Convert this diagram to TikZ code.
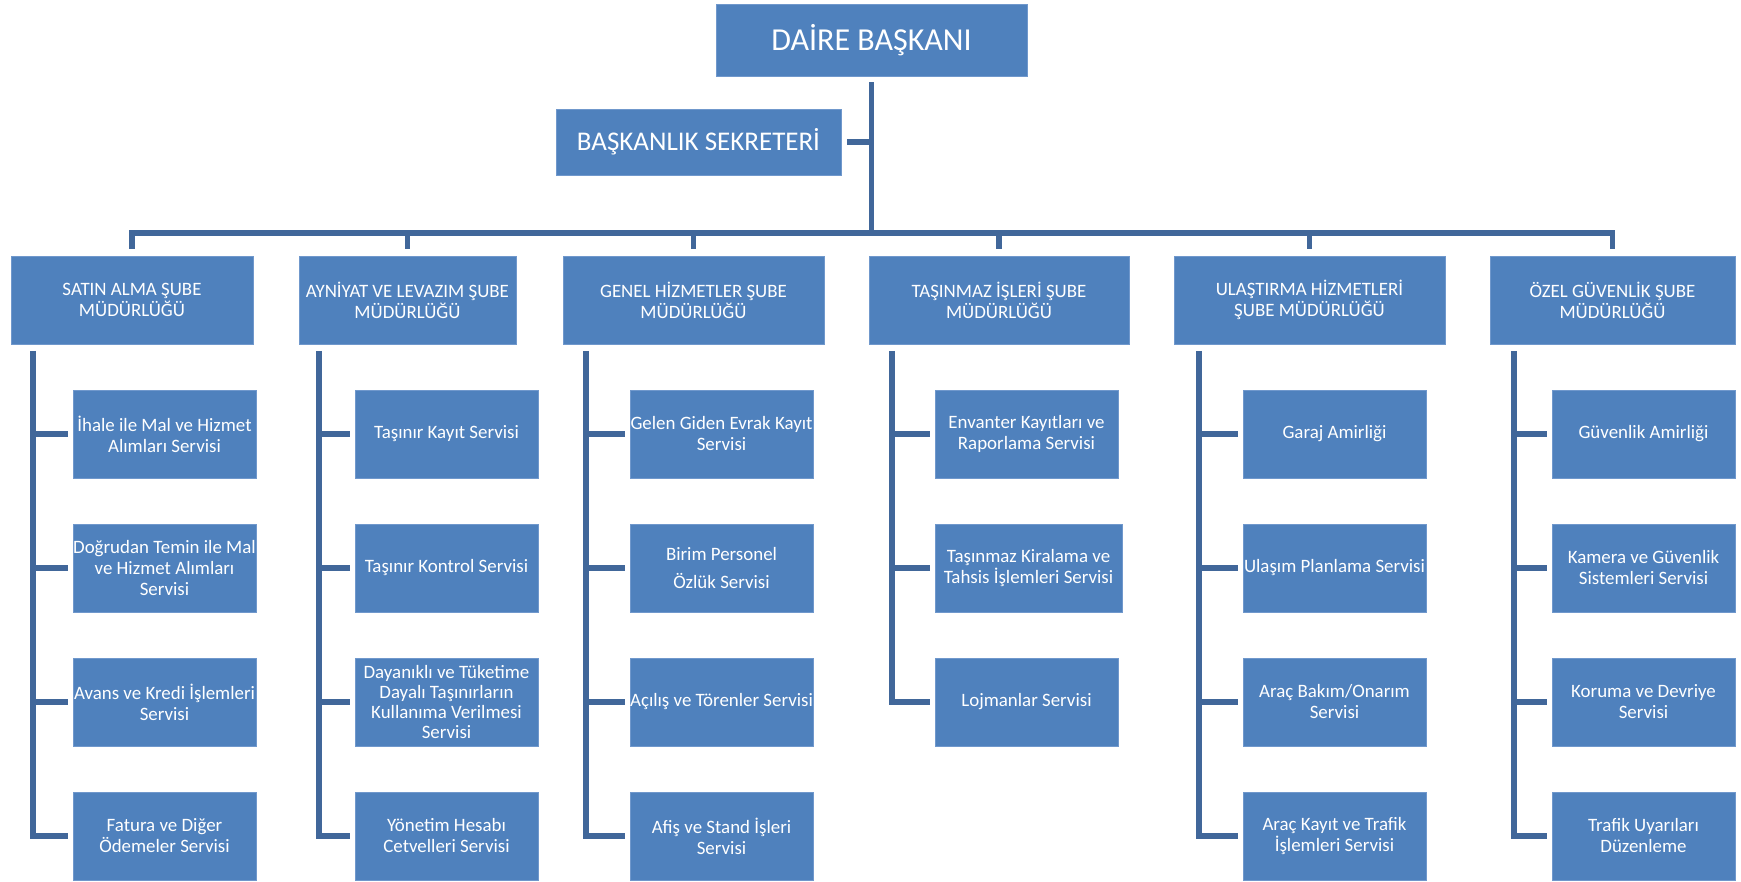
\documentclass[tikz,border=0pt]{standalone}
\usepackage{fontspec}
\setmainfont{Carlito}
\definecolor{boxblue}{RGB}{79,129,189}
\definecolor{edgeblue}{RGB}{112,152,204}
\definecolor{linkblue}{RGB}{65,103,154}

\begin{document}
\begin{tikzpicture}[x=1pt,y=-1pt,
		unit/.style={fill=boxblue,draw=edgeblue,line width=.8pt,text=white,align=center,inner sep=0pt,font=\fontsize{18.9}{21}\selectfont},
		head/.style={unit,minimum width=311pt,minimum height=72pt,font=\fontsize{32}{38}\selectfont},
		secr/.style={unit,minimum width=285pt,minimum height=66pt,font=\fontsize{27}{32}\selectfont},
		dept/.style={unit,minimum height=88pt},
		serv/.style={unit,minimum width=183pt,minimum height=88pt},
		link/.style={draw=linkblue,line width=5.5pt}]
			\useasboundingbox (0,0) rectangle (1741,882);

			\node[head] (bas) at (871.5,40) {DAİRE BAŞKANI};
			\node[secr] (sek) at (698.5,142) {BAŞKANLIK SEKRETERİ};

			\node[dept,minimum width=242pt] (sb1) at (132,300) {SATIN ALMA ŞUBE\\MÜDÜRLÜĞÜ};
			\node[dept,minimum width=217pt] (sb2) at (407.5,300) {AYNİYAT VE LEVAZIM ŞUBE\\MÜDÜRLÜĞÜ};
			\node[dept,minimum width=261pt] (sb3) at (693.5,300) {GENEL HİZMETLER ŞUBE\\MÜDÜRLÜĞÜ};
			\node[dept,minimum width=260pt] (sb4) at (999,300) {TAŞINMAZ İŞLERİ ŞUBE\\MÜDÜRLÜĞÜ};
			\node[dept,minimum width=271pt] (sb5) at (1309.5,300) {ULAŞTIRMA HİZMETLERİ\\ŞUBE MÜDÜRLÜĞÜ};
			\node[dept,minimum width=245pt] (sb6) at (1612.5,300) {ÖZEL GÜVENLİK ŞUBE\\MÜDÜRLÜĞÜ};

			\node[serv] (sv11) at (164.5,434) {İhale ile Mal ve Hizmet\\Alımları Servisi};
			\node[serv] (sv12) at (164.5,568) {Doğrudan Temin ile Mal\\ve Hizmet Alımları\\Servisi};
			\node[serv] (sv13) at (164.5,702) {Avans ve Kredi İşlemleri\\Servisi};
			\node[serv] (sv14) at (164.5,836) {Fatura ve Diğer\\Ödemeler Servisi};

			\node[serv] (sv21) at (446.5,434) {Taşınır Kayıt Servisi};
			\node[serv] (sv22) at (446.5,568) {Taşınır Kontrol Servisi};
			\node[serv] (sv23) at (446.5,702) {Dayanıklı ve Tüketime\\[-1pt]Dayalı Taşınırların\\[-1pt]Kullanıma Verilmesi\\[-1pt]Servisi};
			\node[serv] (sv24) at (446.5,836) {Yönetim Hesabı\\Cetvelleri Servisi};

			\node[serv] (sv31) at (721.5,434) {Gelen Giden Evrak Kayıt\\Servisi};
			\node[serv] (sv32) at (721.5,568) {Birim Personel\\[7pt]Özlük Servisi};
			\node[serv] (sv33) at (721.5,702) {Açılış ve Törenler Servisi};
			\node[serv] (sv34) at (721.5,836) {Afiş ve Stand İşleri\\Servisi};

			\node[serv] (sv41) at (1026.5,434) {Envanter Kayıtları ve\\Raporlama Servisi};
			\node[serv,minimum width=187pt] (sv42) at (1028.5,568) {Taşınmaz Kiralama ve\\Tahsis İşlemleri Servisi};
			\node[serv] (sv43) at (1026.5,702) {Lojmanlar Servisi};

			\node[serv] (sv51) at (1334.5,434) {Garaj Amirliği};
			\node[serv] (sv52) at (1334.5,568) {Ulaşım Planlama Servisi};
			\node[serv] (sv53) at (1334.5,702) {Araç Bakım/Onarım\\Servisi};
			\node[serv] (sv54) at (1334.5,836) {Araç Kayıt ve Trafik\\İşlemleri Servisi};

			\node[serv] (sv61) at (1643.5,434) {Güvenlik Amirliği};
			\node[serv] (sv62) at (1643.5,568) {Kamera ve Güvenlik\\Sistemleri Servisi};
			\node[serv] (sv63) at (1643.5,702) {Koruma ve Devriye\\Servisi};
			\node[serv] (sv64) at (1643.5,836) {Trafik Uyarıları\\Düzenleme};

			\coordinate (bus) at (0,233);
			\draw[link,shorten <=6pt] (bas.south) -- (bas.south |- bus);
			\draw[link,shorten <=6pt] (sek.east) -- (sek.east -| bas.south);
			\draw[link,shorten <=7pt,shorten >=7pt] (sb1.north) -- (sb1.north |- bus) -- (sb6.north |- bus) -- (sb6.north);
			\foreach \i in {2,...,5}
			\draw[link,shorten >=7pt] (sb\i.north |- bus) -- (sb\i.north);

			\foreach \c/\x/\n in {1/33/4,2/319/4,3/586/4,4/892/3,5/1199/4,6/1514/4}{
				\coordinate (sp\c) at (\x,351);
				\draw[link,shorten >=5pt] (sp\c) |- (sv\c\n.west);
				\foreach \r in {1,...,\n}
				\draw[link,shorten >=5pt] (sp\c |- sv\c\r.west) -- (sv\c\r.west);
			}
		\end{tikzpicture}
\end{document}
